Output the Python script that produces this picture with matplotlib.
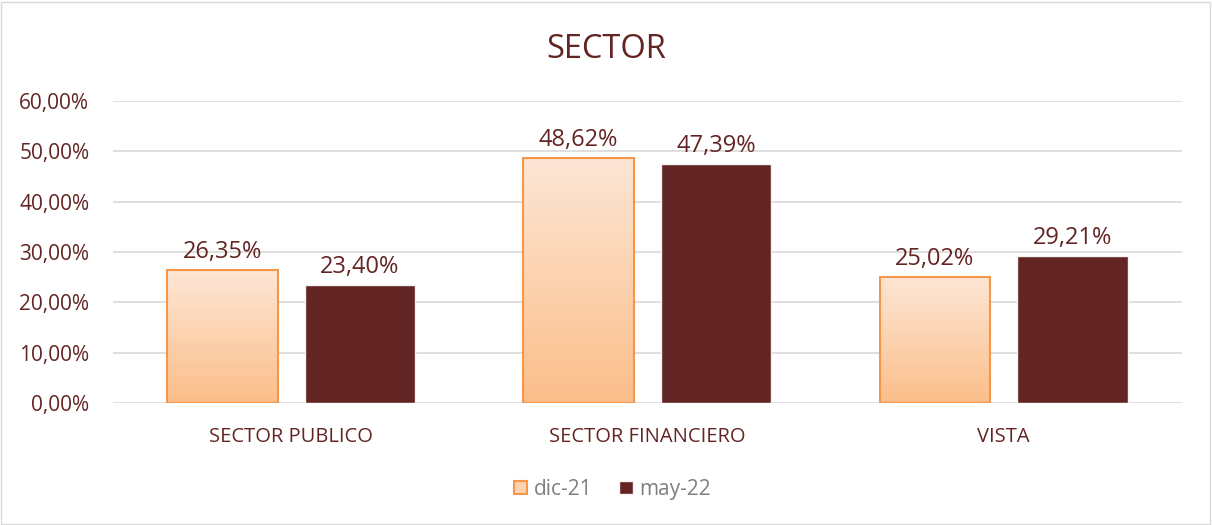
import matplotlib.pyplot as plt
import numpy as np
from matplotlib.colors import LinearSegmentedColormap
from matplotlib.patches import Rectangle

plt.rcParams["font.family"] = ["Open Sans", "DejaVu Sans"]

categories = ["SECTOR PUBLICO", "SECTOR FINANCIERO", "VISTA"]
series_names = ["dic-21", "may-22"]
dic21 = [26.35, 48.62, 25.02]
may22 = [23.40, 47.39, 29.21]
yticks = [0, 10, 20, 30, 40, 50, 60]

TEXT = "#632523"
DARK = "#632523"
ORANGE_EDGE = "#F79646"
grad = LinearSegmentedColormap.from_list("peach", ["#FBBE8A", "#FDE6D5"])

fig = plt.figure(figsize=(12.12, 5.25), dpi=100)
fig.patches.append(Rectangle((0.001, 0.002), 0.997, 0.995, transform=fig.transFigure,
                             fill=False, edgecolor="#D9D9D9", linewidth=1))
ax = fig.add_axes([0.0932, 0.2324, 0.8818, 0.5752])

x = np.arange(len(categories))
width = 0.31
offset = 0.193

# dic-21: barras con degradado (imshow recortado a cada barra)
bars1 = ax.bar(x - offset, dic21, width, color="none", edgecolor=ORANGE_EDGE,
               linewidth=1.5, zorder=3, label=series_names[0])
for b in bars1:
    bx, by = b.get_x(), b.get_y()
    im = ax.imshow(np.linspace(0, 1, 256).reshape(-1, 1), cmap=grad, aspect="auto",
                   origin="lower", extent=[bx, bx + b.get_width(), by, by + b.get_height()],
                   zorder=2.5)
    im.set_clip_path(b)

bars2 = ax.bar(x + offset, may22, width, color=DARK, edgecolor="#F2F2F2",
               linewidth=1, zorder=3, label=series_names[1])

for vals, bars in ((dic21, bars1), (may22, bars2)):
    for v, b in zip(vals, bars):
        ax.text(b.get_x() + b.get_width() / 2, v + 1.2, f"{v:.2f}%".replace(".", ","),
                ha="center", va="bottom", fontsize=17, color=TEXT, zorder=4)

ax.set_xlim(-0.5, 2.5)
ax.set_ylim(0, 60)
ax.set_yticks(yticks)
ax.set_yticklabels([f"{t:.2f}%".replace(".", ",") for t in yticks], fontsize=15, color=TEXT)
ax.set_xticks(x)
ax.set_xticklabels(categories, fontsize=14.5, color=TEXT)
ax.tick_params(axis="x", length=0, pad=17)
ax.tick_params(axis="y", length=0, pad=17)
ax.grid(axis="y", color="#D9D9D9", linewidth=1.2, zorder=0)
ax.set_axisbelow(True)
for s in ax.spines.values():
    s.set_visible(False)

fig.text(0.5, 0.905, "SECTOR", ha="center", va="center", fontsize=23.5, color=TEXT)

h1 = Rectangle((0, 0), 1, 1, facecolor="#FCD3B0", edgecolor=ORANGE_EDGE, linewidth=1.5)
h2 = Rectangle((0, 0), 1, 1, facecolor=DARK, edgecolor="#F2F2F2")
leg = fig.legend([h1, h2], series_names, loc="center", bbox_to_anchor=(0.505, 0.068),
                 ncol=2, frameon=False, fontsize=15, handlelength=0.65, handleheight=0.65,
                 handletextpad=0.3, columnspacing=1.3)
for t in leg.get_texts():
    t.set_color("#7F7F7F")

fig.savefig("out.png", dpi=100)
